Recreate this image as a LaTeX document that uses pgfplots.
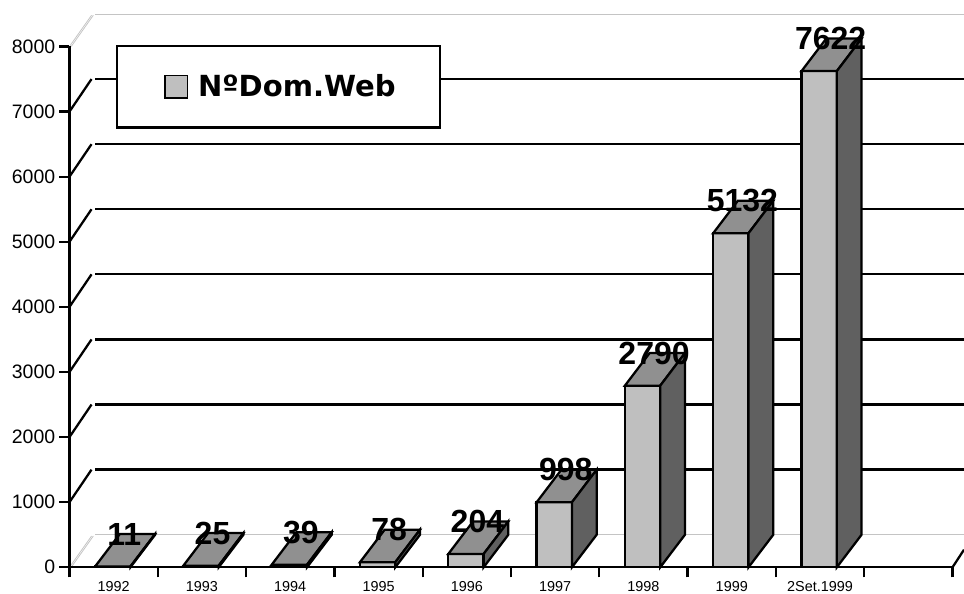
\documentclass[border=0pt]{standalone}
\usepackage{pgfplots}
\pgfplotsset{compat=1.18}
\usepackage{fontspec}
\setmainfont{Liberation Sans}
\newfontfamily\legfont{DejaVu Sans}

\definecolor{barfront}{HTML}{BFBFBF}
\definecolor{bartop}{HTML}{909090}
\definecolor{barside}{HTML}{606060}
\definecolor{floorgrey}{HTML}{C4C4C4}

\pgfplotsset{
  face/.style = {draw=black, line width=1.7pt, forget plot, mark=none},
  grid line/.style = {black, line width=1.7pt, forget plot, mark=none},
  floor line/.style = {floorgrey, line width=0.6pt, forget plot, mark=none},
}

% one 3d column: #1 = position on the axis, #2 = value
\newcommand{\drawcolumn}[2]{%
  \pgfmathsetmacro\xl{#1+0.29}%
  \pgfmathsetmacro\xr{#1+0.69}%
  \pgfmathsetmacro\xlb{#1+0.57}%
  \pgfmathsetmacro\xrb{#1+0.97}%
  \pgfmathsetmacro\vb{#2+500}%
  \addplot[face, fill=barfront] coordinates {(\xl,0) (\xr,0) (\xr,#2) (\xl,#2)} -- cycle;
  \addplot[face, fill=bartop] coordinates {(\xl,#2) (\xr,#2) (\xrb,\vb) (\xlb,\vb)} -- cycle;
  \addplot[face, fill=barside] coordinates {(\xr,0) (\xrb,500) (\xrb,\vb) (\xr,#2)} -- cycle;
}

\begin{document}
\begin{tikzpicture}
\useasboundingbox (0,0) rectangle (723pt,444.75pt);
\begin{axis}[
  at={(52.1pt,19.3pt)}, anchor=south west,
  scale only axis,
  width=670.9pt, height=415pt,
  xmin=0, xmax=10.13, ymin=0, ymax=8500,
  clip=false,
  axis x line*=bottom, axis y line*=left,
  axis line style={draw=none},
  tick align=outside,
  major tick length=7.5pt,
  tick style={black, line width=1.7pt},
  xtick={0,1,...,10},
  xticklabels={1992,1993,1994,1995,1996,1997,1998,1999,2Set.1999,},
  x tick label as interval,
  ytick={0,1000,...,8000},
  scaled y ticks=false,
  /pgf/number format/1000 sep={},
  /pgf/number format/assume math mode=true,
  xticklabel style={font=\fontsize{10.8}{12}\selectfont, inner sep=0pt, yshift=-3pt},
  yticklabel style={font=\fontsize{14.6}{16}\selectfont, inner sep=0pt, xshift=-3pt},
  legend style={
    at={(0.0515,0.944)}, anchor=north west,
    draw=black, line width=1.7pt, fill=white,
    inner xsep=31.3pt, inner ysep=19.5pt,
    font=\legfont\bfseries\fontsize{21.8}{25}\selectfont,
    cells={anchor=west},
  },
]

% walls and floor
\addplot[floor line] coordinates {(0.29,8500) (10.13,8500)};
\addplot[floor line] coordinates {(0.29,500) (10.13,500)};
\addplot[floor line] coordinates {(0,8000) (0.25,8480)};
\addplot[floor line] coordinates {(0.02,8000) (0.27,8480)};
\addplot[floor line] coordinates {(0,0) (0.25,480)};
\addplot[floor line] coordinates {(0.02,0) (0.27,480)};

\pgfplotsinvokeforeach{1000,2000,3000,4000,5000,6000,7000}{
  \pgfmathsetmacro\gl{#1+500}
  \addplot[grid line] coordinates {(0,#1) (0.25,\gl)};
  \addplot[grid line] coordinates {(0.29,\gl) (10.13,\gl)};
}
\addplot[grid line] coordinates {(10,0) (10.13,270)};

% axis lines
\addplot[grid line] coordinates {(0,0) (0,8000)};
\addplot[grid line] coordinates {(0,0) (10,0)};

\drawcolumn{0}{11}
\drawcolumn{1}{25}
\drawcolumn{2}{39}
\drawcolumn{3}{78}
\drawcolumn{4}{204}
\drawcolumn{5}{998}
\drawcolumn{6}{2790}
\drawcolumn{7}{5132}
\drawcolumn{8}{7622}

% value labels sit at the height of the column's back edge
\addplot[
  forget plot, only marks, mark=none,
  nodes near coords,
  point meta=explicit symbolic,
  every node near coord/.append style={
    anchor=center, inner sep=0pt, black,
    font=\bfseries\fontsize{24}{26}\selectfont},
] table [x=x, y expr=\thisrow{v}+500, meta=v] {
x v
0.62 11
1.62 25
2.62 39
3.62 78
4.62 204
5.62 998
6.62 2790
7.62 5132
8.62 7622
};

\addlegendimage{legend image code/.code={
  \draw[fill=barfront, line width=1.2pt] (4pt,-8.5pt) rectangle (21pt,8.5pt);
  \path (0pt,0pt) (26pt,0pt);}}
\addlegendentry{NºDom.Web}
\end{axis}
\end{tikzpicture}
\end{document}
